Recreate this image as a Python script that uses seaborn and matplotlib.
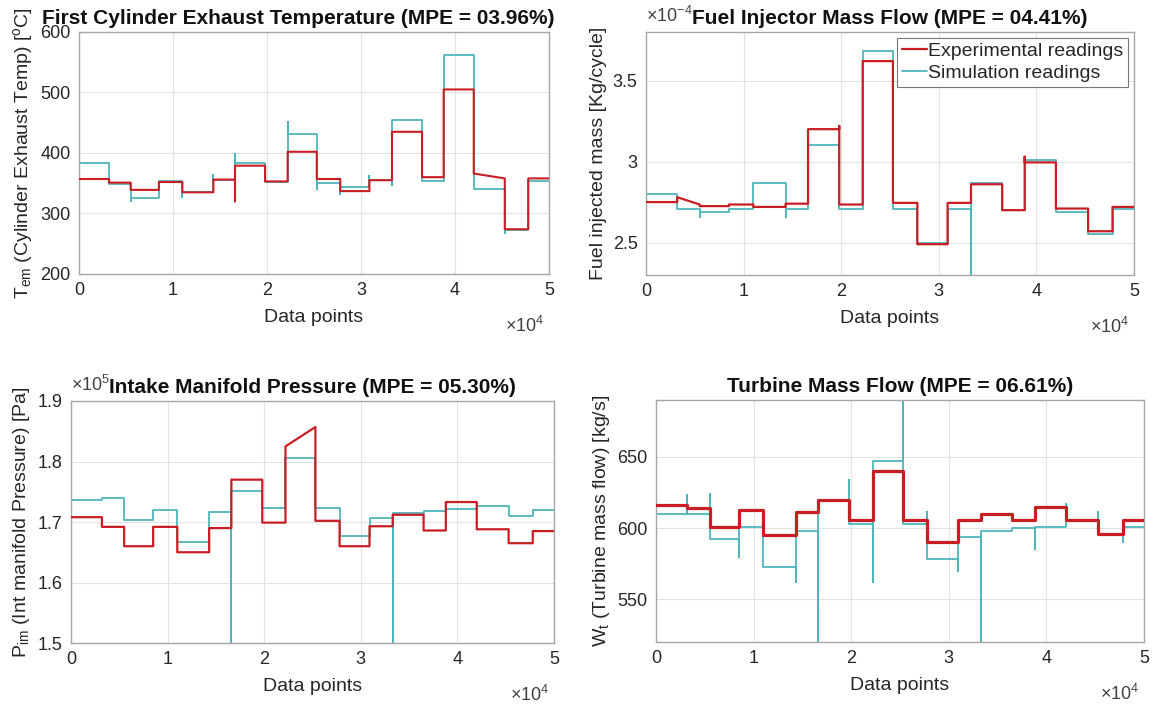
import numpy as np
import pandas as pd
import matplotlib
matplotlib.use("Agg")
import matplotlib.pyplot as plt
from matplotlib.ticker import FuncFormatter, MultipleLocator
import seaborn as sns

# segment edges shared by all four test runs (data points)
edges = [0, 3200, 5500, 8500, 11000, 14300, 16600, 19800, 22200, 25300,
         27800, 30900, 33300, 36500, 38800, 42000, 45300, 47800, 50000]

# exhaust temperature [C]; tuples are (start, end) of a drifting segment
temp_exp = [357, 351, 339, 352, 335, 356, 379, 353, 402, 357, 337, 355,
            435, 360, 505, (366, 358), 274, 358]
temp_sim = [383, 348, 325, 353, 335, 355, 383, 352, 432, 350, 343, 355,
            455, 353, 562, 340, 272, 353]
temp_sim_spike = [np.nan, 320, np.nan, 327, 363, 398, np.nan, 452, 340, 333,
                  362, 347, np.nan, np.nan, np.nan, 268, np.nan]
temp_exp_spike = [np.nan] * 5 + [320] + [np.nan] * 11

# fuel injected mass [x1e-4 kg/cycle]
fuel_exp = [2.75, (2.78, 2.735), 2.725, 2.735, 2.72, 2.74, 3.20, 2.735, 3.62,
            2.745, 2.49, 2.745, 2.86, 2.70, 2.995, 2.71, 2.57, 2.72]
fuel_sim = [2.80, 2.71, 2.69, 2.71, 2.87, 2.71, 3.10, 2.71, 3.68, 2.71, 2.50,
            2.71, 2.87, 2.70, 3.01, 2.69, 2.55, 2.71]
fuel_sim_spike = [np.nan, 2.66, np.nan, np.nan, 2.66, np.nan, np.nan, np.nan,
                  np.nan, np.nan, np.nan, 2.2, np.nan, np.nan, np.nan, np.nan, np.nan]
fuel_exp_spike = [np.nan] * 6 + [3.22] + [np.nan] * 6 + [3.03] + [np.nan] * 3

# intake manifold pressure [x1e5 Pa]
pim_exp = [1.708, 1.692, 1.660, 1.692, 1.650, 1.690, 1.770, 1.699,
           (1.825, 1.857), 1.702, 1.660, 1.693, 1.712, 1.686, 1.733,
           1.688, 1.665, 1.685]
pim_sim = [1.737, 1.739, 1.703, 1.720, 1.667, 1.716, 1.752, 1.723, 1.806,
           1.723, 1.677, 1.707, 1.715, 1.718, 1.722, 1.727, 1.710, 1.720]
pim_sim_spike = [np.nan] * 5 + [1.40] + [np.nan] * 5 + [1.40] + [np.nan] * 5

# turbine mass flow [kg/s]
wt_exp = [616, 614, 601, 613, 595, 611, 620, 606, 640, 606, 590, 606,
          610, 606, 615, 606, 596, 606]
wt_sim = [610, 610, 592, 601, 573, 598, 620, 603, 647, 603, 578, 594,
          598, 600, 601, 605, 596, 601]
wt_sim_spike = [623, 624, 580, np.nan, 562, 500, 634, 562, 700, 611, 570,
                500, np.nan, 585, 617, 611, 590]

RED = "#c81e23"
TEAL = "#4fb5bd"


def steps(levels, spikes=None):
    xs, ys = [], []
    for i, lv in enumerate(levels):
        a, b = lv if isinstance(lv, tuple) else (lv, lv)
        if i > 0 and spikes is not None and not np.isnan(spikes[i - 1]):
            xs.append(edges[i]); ys.append(spikes[i - 1])
        xs += [edges[i], edges[i + 1]]
        ys += [a, b]
    return pd.DataFrame({"x": xs, "y": ys})


sns.set_theme(style="white")
plt.rcParams["font.family"] = ["Liberation Sans", "DejaVu Sans"]
plt.rcParams["mathtext.default"] = "regular"

fig = plt.figure(figsize=(11.53, 7.04), dpi=100)
positions = [
    [0.0685, 0.6108, 0.4076, 0.3438],
    [0.5603, 0.6094, 0.4232, 0.3452],
    [0.0616, 0.0866, 0.4189, 0.3438],
    [0.5690, 0.0881, 0.4232, 0.3438],
]
title_x = [0.466, 0.5, 0.5, 0.5]

panels = [
    ("First Cylinder Exhaust Temperature (MPE = 03.96%)",
     "T$_{em}$ (Cylinder Exhaust Temp) [$^{o}$C]",
     temp_exp, temp_exp_spike, temp_sim, temp_sim_spike, (200, 600), 100, None, 1.5),
    ("Fuel Injector Mass Flow (MPE = 04.41%)",
     "Fuel injected mass [Kg/cycle]",
     fuel_exp, fuel_exp_spike, fuel_sim, fuel_sim_spike, (2.3, 3.8), 0.5, "-4", 1.6),
    ("Intake Manifold Pressure (MPE = 05.30%)",
     "P$_{im}$ (Int manifold Pressure) [Pa]",
     pim_exp, None, pim_sim, pim_sim_spike, (1.5, 1.9), 0.1, "5", 1.6),
    ("Turbine Mass Flow (MPE = 06.61%)",
     "W$_t$ (Turbine mass flow) [kg/s]",
     wt_exp, None, wt_sim, wt_sim_spike, (520, 690), 50, None, 2.3),
]

for k, (title, ylabel, exp, exp_sp, sim, sim_sp, ylim, ystep, ymult, lw) in enumerate(panels):
    ax = fig.add_axes(positions[k])
    d_exp = steps(exp, exp_sp)
    d_sim = steps(sim, sim_sp)
    sns.lineplot(data=d_exp, x="x", y="y", sort=False, estimator=None,
                 color=RED, lw=lw, ax=ax, label="Experimental readings", zorder=3)
    sns.lineplot(data=d_sim, x="x", y="y", sort=False, estimator=None,
                 color=TEAL, lw=1.3, ax=ax, label="Simulation readings", zorder=2)

    ax.set_xlim(0, 50000)
    ax.set_ylim(*ylim)
    ax.xaxis.set_major_locator(MultipleLocator(10000))
    ax.xaxis.set_major_formatter(FuncFormatter(lambda v, p: "%g" % (v / 1e4)))
    ax.yaxis.set_major_locator(MultipleLocator(ystep))
    ax.yaxis.set_major_formatter(FuncFormatter(lambda v, p: "%g" % round(v, 3)))
    ax.grid(True, color="#e3e3e3", lw=0.8)
    ax.set_axisbelow(True)
    for s in ax.spines.values():
        s.set_color("#a6a6a6")
        s.set_linewidth(1.0)
    ax.tick_params(direction="in", length=3, color="#a6a6a6", labelsize=13,
                   labelcolor="#262626", pad=6)
    ax.set_xlabel("Data points", fontsize=14, color="#262626", labelpad=7)
    ax.set_ylabel(ylabel, fontsize=14, color="#262626", labelpad=4)
    ax.set_title(title, fontsize=15, fontweight="bold", color="#111111", pad=6,
                 x=title_x[k])
    ax.text(0.99, -0.215, "$\\times10^{4}$", transform=ax.transAxes,
            ha="right", va="center", fontsize=13, color="#404040")
    if ymult:
        ax.text(0.0, 1.065, "$\\times10^{%s}$" % ymult, transform=ax.transAxes,
                ha="left", va="center", fontsize=13, color="#404040")

    if k == 1:
        leg = ax.legend(loc="upper right", fontsize=14, frameon=True, fancybox=False,
                        handlelength=1.3, handletextpad=0.05, borderpad=0.25,
                        labelspacing=0.2, borderaxespad=0.3)
        leg.get_frame().set_edgecolor("#555555")
        leg.get_frame().set_linewidth(0.8)
    else:
        ax.get_legend().remove()

fig.savefig("out.png", dpi=100)
